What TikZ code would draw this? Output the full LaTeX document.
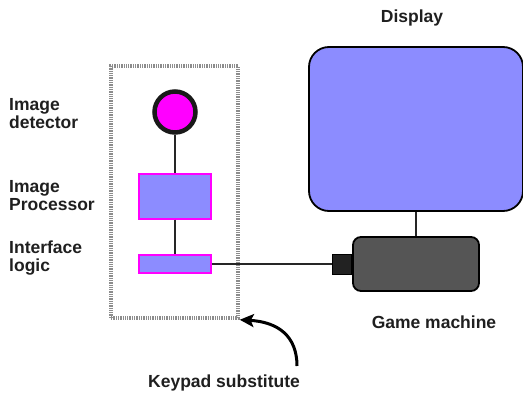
\documentclass[tikz,border=0pt]{standalone}
\usepackage{fontspec}
\setmainfont{Liberation Sans}
\usetikzlibrary{arrows.meta}
\definecolor{panelblue}{HTML}{8C8CFF}
\definecolor{hotpink}{HTML}{FF00FF}
\definecolor{boxgray}{HTML}{555555}
\definecolor{plugblack}{HTML}{222222}
\definecolor{dotgray}{HTML}{8C8C8C}
\begin{document}
\begin{tikzpicture}[x=1pt,y=-1pt,
  lbl/.style={font=\fontsize{17.5}{18}\selectfont\bfseries, text=black!88, inner sep=0pt},
  sidelbl/.style={lbl, align=left, anchor=west},
  wire/.style={draw=black!85, line width=2.8pt},
  unit/.style={draw=hotpink, fill=panelblue, line width=1.4pt, inner sep=0pt}]
\useasboundingbox (0,0) rectangle (523,399);

% keypad substitute enclosure
\node[draw=dotgray, line width=3.5pt, dash pattern=on 1.3pt off 1pt, minimum width=127pt, minimum height=252pt, inner sep=0pt] (pad) at (174.5,192) {};

% components inside the enclosure
\node[circle, draw=black!90, fill=hotpink, line width=4.5pt, minimum size=41pt, inner sep=0pt] (det) at (175,112) {};
\node[unit, minimum width=72pt, minimum height=45pt] (proc) at (175,196.5) {};
\node[unit, minimum width=72pt, minimum height=18pt] (iface) at (175,264) {};

% display and game machine
\node[draw=black, fill=panelblue, line width=1.8pt, rounded corners=20pt, minimum width=214pt, minimum height=164pt, inner sep=0pt] (disp) at (416,129) {};
\node[draw=black, fill=boxgray, line width=1.8pt, rounded corners=8pt, minimum width=126pt, minimum height=54pt, inner sep=0pt] (game) at (416,264) {};
\node[draw=black, fill=plugblack, line width=0.8pt, minimum width=19pt, minimum height=20pt, inner sep=0pt, anchor=east] (plug) at (game.west) {};

% connections
\draw[wire] (det.south) -- (proc.north);
\draw[wire] (proc.south) -- (iface.north);
\draw[wire] (iface.east) -- (plug.west);
\draw[wire] (disp.south) -- (game.north);

% labels
\node[lbl] (tdisp) at (412,18) {Display};
\node[sidelbl] (tdet) at (9,114) {Image\\detector};
\node[sidelbl] (tproc) at (9,196) {Image\\Processor};
\node[sidelbl] (tiface) at (9,258) {Interface\\logic};
\node[lbl] (tgame) at (434,322) {Game machine};
\node[lbl] (tpad) at (224,383) {Keypad substitute};

% pointer to the enclosure
\coordinate (tail) at (297,366);
\draw[line width=3pt, -{Stealth[length=14pt,width=13pt,inset=3pt]}] (tail) .. controls (297,336) and (278,322) .. (pad.south east);
\end{tikzpicture}
\end{document}
